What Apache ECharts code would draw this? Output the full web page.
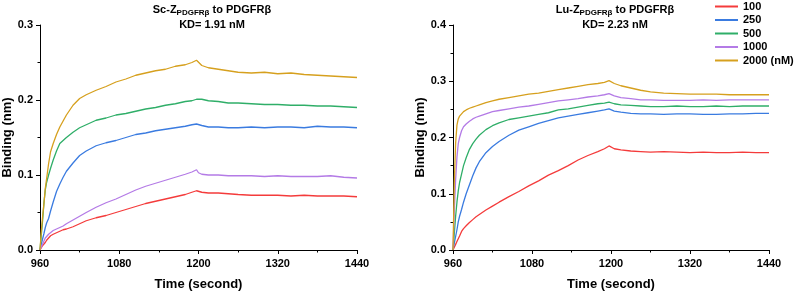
<!DOCTYPE html>
<html>
<head>
<meta charset="utf-8">
<script src="https://cdn.jsdelivr.net/npm/echarts@6/dist/echarts.min.js"></script>
<style>
  html, body { margin: 0; padding: 0; background: #fff; }
  #chart { width: 794px; height: 292px; }
</style>
</head>
<body>
<div id="chart"></div>
<script>
"use strict";

// time points (second), shared by both panels
const times = [960, 962, 964, 966, 968, 970, 973, 976, 980, 985, 990, 995, 1000, 1010, 1020, 1030, 1045, 1060, 1075, 1090, 1105, 1120, 1135, 1150, 1165, 1180, 1190, 1197, 1200, 1205, 1215, 1230, 1245, 1260, 1280, 1300, 1320, 1340, 1360, 1380, 1400, 1420, 1440];

const seriesNames = ["100", "250", "500", "1000", "2000 (nM)"];
const seriesColors = ["#f43b3b", "#3a7be0", "#2fae68", "#b47be6", "#d6a01e"];

// Sc-Z panel (left)
const sc100  = [0, 0.003, 0.006, 0.008, 0.010, 0.013, 0.016, 0.019, 0.021, 0.023, 0.025, 0.027, 0.028, 0.031, 0.035, 0.039, 0.043, 0.046, 0.050, 0.054, 0.058, 0.062, 0.065, 0.068, 0.071, 0.074, 0.077, 0.079, 0.078, 0.077, 0.076, 0.076, 0.075, 0.074, 0.073, 0.073, 0.073, 0.072, 0.073, 0.072, 0.072, 0.072, 0.071];
const sc250  = [0, 0.008, 0.015, 0.022, 0.030, 0.036, 0.042, 0.052, 0.064, 0.078, 0.088, 0.097, 0.105, 0.116, 0.126, 0.132, 0.139, 0.143, 0.146, 0.150, 0.154, 0.156, 0.159, 0.161, 0.163, 0.165, 0.167, 0.168, 0.167, 0.166, 0.164, 0.164, 0.163, 0.163, 0.164, 0.163, 0.164, 0.164, 0.163, 0.165, 0.164, 0.164, 0.163];
const sc500  = [0, 0.020, 0.040, 0.063, 0.080, 0.090, 0.100, 0.109, 0.120, 0.132, 0.142, 0.146, 0.150, 0.157, 0.163, 0.167, 0.173, 0.176, 0.180, 0.182, 0.185, 0.188, 0.190, 0.193, 0.195, 0.198, 0.199, 0.201, 0.201, 0.201, 0.199, 0.198, 0.196, 0.196, 0.195, 0.194, 0.194, 0.193, 0.193, 0.192, 0.192, 0.191, 0.190];
const sc1000 = [0, 0.004, 0.008, 0.012, 0.016, 0.018, 0.021, 0.023, 0.026, 0.028, 0.030, 0.032, 0.035, 0.040, 0.045, 0.050, 0.057, 0.063, 0.068, 0.074, 0.080, 0.085, 0.089, 0.093, 0.097, 0.101, 0.104, 0.107, 0.103, 0.101, 0.100, 0.100, 0.099, 0.099, 0.099, 0.098, 0.099, 0.098, 0.098, 0.098, 0.099, 0.097, 0.096];
const sc2000 = [0, 0.025, 0.045, 0.062, 0.082, 0.095, 0.115, 0.131, 0.142, 0.154, 0.164, 0.172, 0.180, 0.193, 0.202, 0.207, 0.213, 0.218, 0.224, 0.228, 0.233, 0.236, 0.239, 0.241, 0.245, 0.247, 0.250, 0.253, 0.251, 0.246, 0.243, 0.241, 0.239, 0.237, 0.236, 0.237, 0.235, 0.236, 0.234, 0.233, 0.232, 0.231, 0.230];

// Lu-Z panel (right)
const lu100  = [0, 0.005, 0.010, 0.015, 0.020, 0.025, 0.033, 0.038, 0.043, 0.049, 0.054, 0.059, 0.063, 0.071, 0.078, 0.085, 0.095, 0.104, 0.114, 0.123, 0.133, 0.141, 0.150, 0.160, 0.168, 0.175, 0.180, 0.185, 0.183, 0.180, 0.178, 0.176, 0.175, 0.174, 0.175, 0.174, 0.173, 0.174, 0.173, 0.173, 0.174, 0.173, 0.173];
const lu250  = [0, 0.012, 0.024, 0.036, 0.050, 0.060, 0.072, 0.085, 0.100, 0.116, 0.132, 0.146, 0.157, 0.173, 0.184, 0.193, 0.204, 0.213, 0.219, 0.225, 0.230, 0.235, 0.238, 0.241, 0.244, 0.247, 0.249, 0.251, 0.250, 0.247, 0.245, 0.243, 0.242, 0.242, 0.241, 0.242, 0.242, 0.241, 0.241, 0.242, 0.242, 0.243, 0.243];
const lu500  = [0, 0.030, 0.060, 0.085, 0.105, 0.120, 0.135, 0.150, 0.164, 0.179, 0.189, 0.197, 0.204, 0.214, 0.221, 0.226, 0.232, 0.235, 0.238, 0.241, 0.244, 0.249, 0.251, 0.254, 0.257, 0.260, 0.261, 0.263, 0.263, 0.260, 0.258, 0.257, 0.256, 0.255, 0.255, 0.256, 0.255, 0.255, 0.256, 0.255, 0.256, 0.256, 0.256];
const lu1000 = [0, 0.070, 0.125, 0.165, 0.189, 0.200, 0.212, 0.219, 0.224, 0.229, 0.233, 0.236, 0.238, 0.242, 0.246, 0.248, 0.251, 0.254, 0.256, 0.259, 0.262, 0.265, 0.267, 0.269, 0.272, 0.274, 0.276, 0.278, 0.277, 0.274, 0.271, 0.269, 0.267, 0.267, 0.266, 0.266, 0.266, 0.267, 0.266, 0.267, 0.267, 0.267, 0.267];
const lu2000 = [0, 0.120, 0.190, 0.222, 0.233, 0.238, 0.242, 0.246, 0.249, 0.252, 0.254, 0.256, 0.258, 0.262, 0.265, 0.268, 0.271, 0.274, 0.277, 0.279, 0.282, 0.285, 0.288, 0.291, 0.294, 0.296, 0.298, 0.301, 0.299, 0.296, 0.292, 0.288, 0.284, 0.281, 0.279, 0.278, 0.277, 0.277, 0.277, 0.276, 0.276, 0.276, 0.276];

const xTicks = { min: 960, max: 1440, interval: 120 };

const leftSets = [sc100, sc250, sc500, sc1000, sc2000];
const rightSets = [lu100, lu250, lu500, lu1000, lu2000];

const FONT = "'Liberation Sans', Arial, sans-serif";

function pairs(vals) {
    return times.map((t, i) => [t, vals[i]]);
}

function xAxisFor(idx) {
    return {
        type: 'value', gridIndex: idx,
        min: xTicks.min, max: xTicks.max, interval: xTicks.interval,
        name: 'Time (second)', nameLocation: 'middle', nameGap: 28,
        nameTextStyle: { fontFamily: FONT, fontWeight: 'bold', fontSize: 13, color: '#000' },
        axisLine: { lineStyle: { color: '#000', width: 1 } },
        axisTick: { length: 4, lineStyle: { color: '#000' } },
        minorTick: { show: true, splitNumber: 2, length: 2.5, lineStyle: { color: '#000' } },
        splitLine: { show: false },
        axisLabel: {
            fontFamily: FONT, fontWeight: 'bold', fontSize: 11, color: '#000', margin: 8,
            formatter: v => String(v)
        }
    };
}

function yAxisFor(idx, max) {
    return {
        type: 'value', gridIndex: idx,
        min: 0, max: max, interval: 0.1,
        name: 'Binding (nm)', nameLocation: 'middle', nameGap: 26,
        nameTextStyle: { fontFamily: FONT, fontWeight: 'bold', fontSize: 13, color: '#000' },
        axisLine: { show: true, lineStyle: { color: '#000', width: 1 } },
        axisTick: { show: true, length: 4, lineStyle: { color: '#000' } },
        minorTick: { show: true, splitNumber: 2, length: 2.5, lineStyle: { color: '#000' } },
        splitLine: { show: false },
        axisLabel: {
            fontFamily: FONT, fontWeight: 'bold', fontSize: 11, color: '#000', margin: 7,
            formatter: v => v.toFixed(1)
        }
    };
}

function titleFor(prefix, kd, x) {
    return {
        text: '{b|' + prefix + '}{s|PDGFRβ}{b| to PDGFRβ}\n{b|KD= ' + kd + ' nM}',
        left: x, top: -3, textAlign: 'center',
        textStyle: {
            rich: {
                b: { fontFamily: FONT, fontWeight: 'bold', fontSize: 11, color: '#000', lineHeight: 15 },
                s: { fontFamily: FONT, fontWeight: 'bold', fontSize: 8, color: '#000', lineHeight: 15, verticalAlign: 'bottom' }
            }
        }
    };
}

const series = [];
leftSets.forEach((vals, i) => {
    series.push({
        name: seriesNames[i], type: 'line', xAxisIndex: 0, yAxisIndex: 0,
        data: pairs(vals), showSymbol: false, smooth: false,
        lineStyle: { width: 1.3, color: seriesColors[i] }, itemStyle: { color: seriesColors[i] }
    });
});
rightSets.forEach((vals, i) => {
    series.push({
        name: seriesNames[i], type: 'line', xAxisIndex: 1, yAxisIndex: 1,
        data: pairs(vals), showSymbol: false, smooth: false,
        lineStyle: { width: 1.3, color: seriesColors[i] }, itemStyle: { color: seriesColors[i] }
    });
});

const myChart = echarts.init(document.getElementById('chart'), null, { renderer: 'canvas' });
myChart.setOption({
    animation: false,
    backgroundColor: '#fff',
    title: [titleFor('Sc-Z', '1.91', 207), titleFor('Lu-Z', '2.23', 610)],
    legend: {
        orient: 'vertical', left: 715, top: 1, itemGap: 2.5, padding: 0,
        itemWidth: 23, itemHeight: 2, icon: 'rect',
        data: seriesNames,
        textStyle: { fontFamily: FONT, fontWeight: 'bold', fontSize: 11, color: '#000' }
    },
    grid: [
        { left: 40, right: 437, top: 25, bottom: 42, outerBoundsMode: 'none', containLabel: false },
        { left: 453, right: 25, top: 25, bottom: 42, outerBoundsMode: 'none', containLabel: false }
    ],
    xAxis: [xAxisFor(0), xAxisFor(1)],
    yAxis: [yAxisFor(0, 0.3), yAxisFor(1, 0.4)],
    series: series
});
</script>
</body>
</html>
